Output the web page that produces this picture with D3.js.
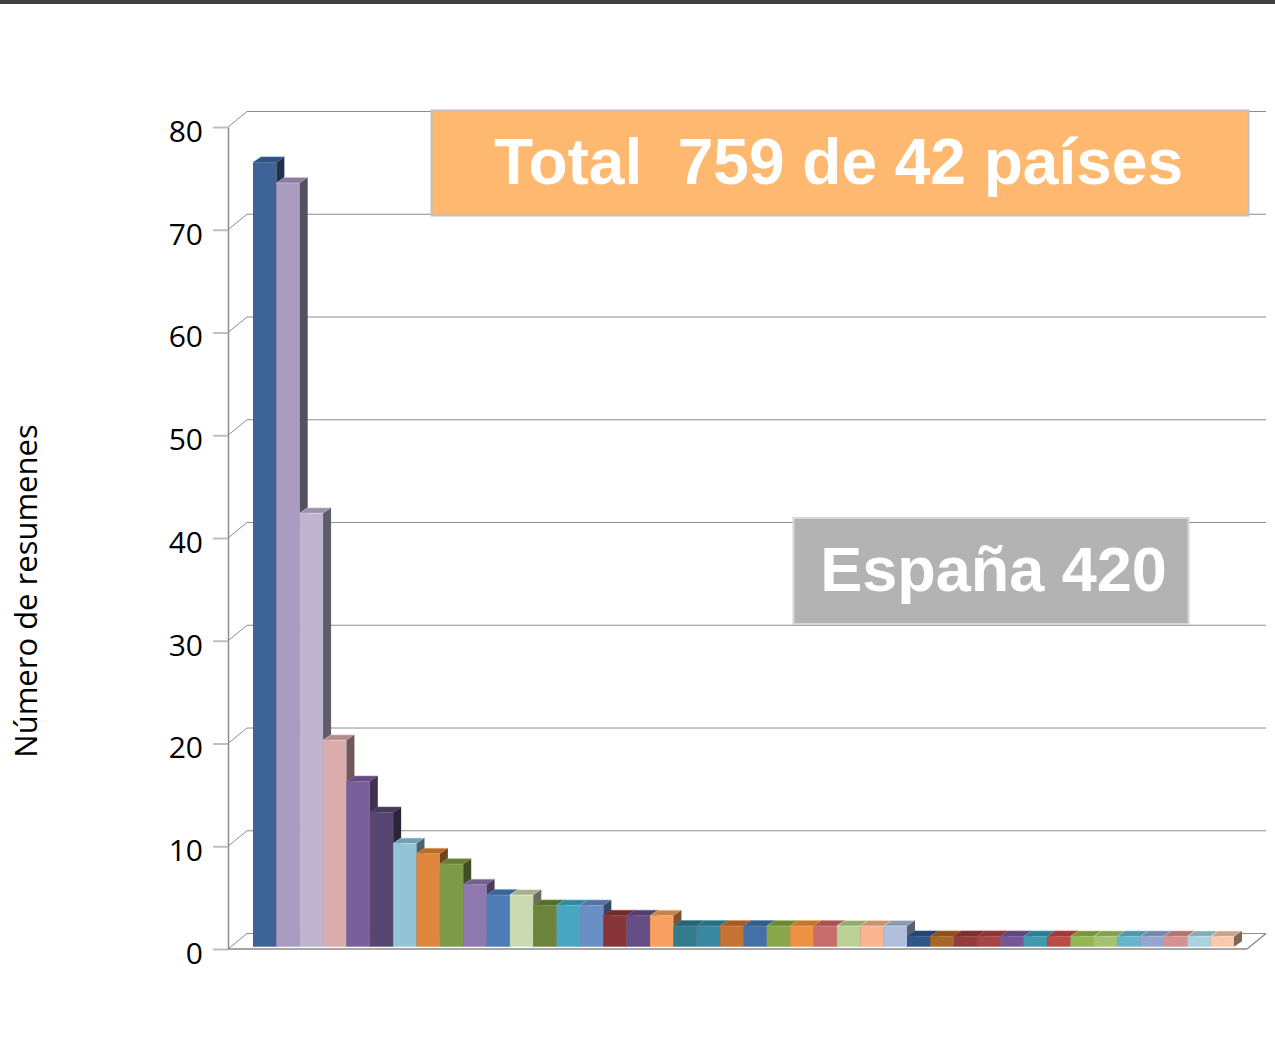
<!DOCTYPE html>
<html>
<head>
<meta charset="utf-8">
<script src="https://cdn.jsdelivr.net/npm/d3@7"></script>
<style>
    body { margin: 0; background: #fff; }
</style>
</head>
<body>
<svg id="chart" width="1275" height="1039"></svg>
<script>

// datos: resumenes por pais (sin Espana), ordenados
const valores = [76, 74, 42, 20, 16, 13, 10, 9, 8, 6, 5, 5, 4, 4, 4, 3, 3, 3,
    2, 2, 2, 2, 2, 2, 2, 2, 2, 2,
    1, 1, 1, 1, 1, 1, 1, 1, 1, 1, 1, 1, 1, 1];

const colores = ['#3e6497', '#a99cc0', '#c0b5cf', '#dcadad', '#7a5f9c', '#574670',
    '#92c3d6', '#de863c', '#7e9947', '#8f78ae', '#4d7cb8', '#cbd9b1', '#6b843c',
    '#47a6c0', '#6a8fc4', '#873537', '#654d85', '#f7a062', '#337a8c', '#3a889f',
    '#c57333', '#4470a6', '#88a64a', '#ee9242', '#c86b6b', '#b9d096', '#f9b590',
    '#afbfda', '#2f5686', '#a86629', '#953c3c', '#a74545', '#735895', '#3f9ab0',
    '#bc4b48', '#95b655', '#a6c171', '#69b6cc', '#93a8cf', '#d69292', '#aad2df',
    '#f9c9ad'];

const ticks = [0, 10, 20, 30, 40, 50, 60, 70, 80];

const tituloEje = 'Número de resumenes';
const textoTotal = 'Total  759 de 42 países';
const textoEspana = 'España 420';


const svg = d3.select('#chart');

// wall depth and bar depth (oblique projection)
const wall = { dx: 19, dy: -15.5 };
const bar = { dx: 8, dy: -5.5 };

const y = d3.scaleLinear().domain([0, 80]).range([949, 127]);
const yBar = d3.scaleLinear().domain([0, 80]).range([946.7, 121.1]);
const x = d3.scaleBand()
    .domain(d3.range(valores.length))
    .range([253, 1234])
    .padding(0);

const xLeft = 228;
const xRight = 1247;

//top border
svg.append('rect')
    .attr('x', 0)
    .attr('y', 0)
    .attr('width', 1275)
    .attr('height', 4)
    .style('fill', '#404040');

//back wall gridlines + side wall
const grid = svg.append('g');
for (let t of ticks) {
    grid.append('line')
        .attr('x1', xLeft + wall.dx)
        .attr('y1', y(t) + wall.dy)
        .attr('x2', xRight + wall.dx)
        .attr('y2', y(t) + wall.dy)
        .style('stroke', '#8c8c8c')
        .style('stroke-width', 1);
    grid.append('line')
        .attr('x1', xLeft)
        .attr('y1', y(t))
        .attr('x2', xLeft + wall.dx)
        .attr('y2', y(t) + wall.dy)
        .style('stroke', '#8c8c8c')
        .style('stroke-width', 1);
}

//floor
svg.append('line')
    .attr('x1', xLeft)
    .attr('y1', y(0))
    .attr('x2', xRight)
    .attr('y2', y(0))
    .style('stroke', '#a6a6a6')
    .style('stroke-width', 2);
svg.append('line')
    .attr('x1', xRight)
    .attr('y1', y(0))
    .attr('x2', xRight + wall.dx)
    .attr('y2', y(0) + wall.dy)
    .style('stroke', '#8c8c8c')
    .style('stroke-width', 1.5);

//y axis
const axis = svg.append('g')
    .attr('transform', 'translate(' + xLeft + ',0)')
    .call(d3.axisLeft(y).tickValues(ticks).tickSize(15).tickSizeOuter(0).tickPadding(10));

axis.select('.domain')
    .style('stroke', '#8c8c8c')
    .style('stroke-width', 1.5);
axis.selectAll('.tick line')
    .style('stroke', '#bfbfbf')
    .style('stroke-width', 2);
axis.selectAll('.tick text')
    .attr('dy', '0.48em')
    .style('fill', '#000')
    .style('font-family', '"Open Sans", sans-serif')
    .style('font-size', '30px');

//axis title
svg.append('text')
    .text(tituloEje)
    .attr('transform', 'translate(37,591) rotate(-90)')
    .attr('text-anchor', 'middle')
    .style('fill', '#000')
    .style('font-family', '"Open Sans", sans-serif')
    .style('font-size', '31px');

//bars
const bars = svg.append('g');
valores.forEach(function (v, i) {
    let x0 = x(i);
    let x1 = x(i) + x.bandwidth();
    let yT = yBar(v);
    let yB = yBar(0);
    let c = d3.color(colores[i]);

    bars.append('rect')
        .attr('x', x0)
        .attr('y', yT)
        .attr('width', x1 - x0)
        .attr('height', yB - yT)
        .style('fill', c.formatHex());

    bars.append('polygon')
        .attr('points', [[x0, yT], [x0 + bar.dx, yT + bar.dy], [x1 + bar.dx, yT + bar.dy], [x1, yT]].join(' '))
        .style('fill', c.darker(0.6).formatHex())
        .style('stroke', c.brighter(0.6).formatHex())
        .style('stroke-width', 0.6);

    bars.append('polygon')
        .attr('points', [[x1, yT], [x1 + bar.dx, yT + bar.dy], [x1 + bar.dx, yB + bar.dy], [x1, yB]].join(' '))
        .style('fill', c.darker(1.9).formatHex());
});

//total label
svg.append('rect')
    .attr('x', 431.5)
    .attr('y', 110.5)
    .attr('width', 817)
    .attr('height', 105)
    .style('fill', '#ffb870')
    .style('stroke', '#c0c0c0')
    .style('stroke-width', 2);
svg.append('text')
    .text(textoTotal)
    .attr('x', 838.5)
    .attr('y', 184)
    .attr('text-anchor', 'middle')
    .style('white-space', 'pre')
    .style('fill', '#fff')
    .style('font-family', '"Liberation Sans", Arial, sans-serif')
    .style('font-weight', 'bold')
    .style('font-size', '64px');

//spain label
svg.append('rect')
    .attr('x', 793.5)
    .attr('y', 518)
    .attr('width', 395)
    .attr('height', 106)
    .style('fill', '#b3b3b3')
    .style('stroke', '#d6d6d6')
    .style('stroke-width', 2);
svg.append('text')
    .text(textoEspana)
    .attr('x', 993.5)
    .attr('y', 591)
    .attr('text-anchor', 'middle')
    .style('fill', '#fff')
    .style('font-family', '"Liberation Sans", Arial, sans-serif')
    .style('font-weight', 'bold')
    .style('font-size', '63px');

</script>
</body>
</html>
